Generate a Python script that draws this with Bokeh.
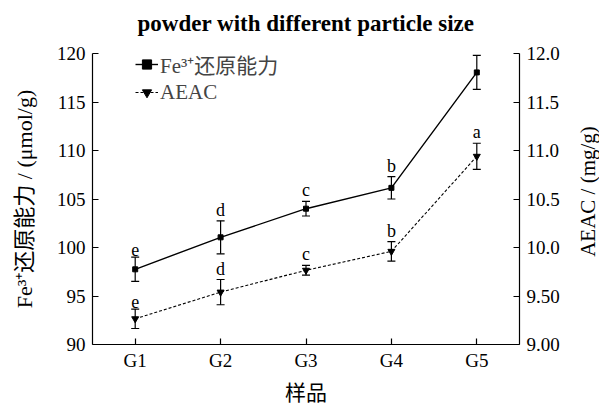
import math
from bokeh.plotting import figure
from bokeh.models import (LinearAxis, Range1d, FactorRange, FixedTicker, Whisker,
                          TeeHead, ColumnDataSource, Legend, LegendItem, Title, Label)
from bokeh.core.properties import value
from bokeh.embed import file_html
from bokeh.resources import INLINE

samples = ["G1", "G2", "G3", "G4", "G5"]
fe_values = [97.75, 101.05, 104.0, 106.15, 118.05]
fe_errors = [1.25, 1.7, 0.75, 1.15, 1.75]
fe_letters = ["e", "d", "c", "b", "a"]
aeac_values = [9.265, 9.54, 9.765, 9.96, 10.94]
aeac_errors = [0.1, 0.13, 0.05, 0.1, 0.135]
aeac_letters = ["e", "d", "c", "b", "a"]
left_ticks = [90, 95, 100, 105, 110, 115, 120]
right_ticks = [9.0, 9.5, 10.0, 10.5, 11.0, 11.5, 12.0]
right_tick_labels = ["9.00", "9.50", "10.0", "10.5", "11.0", "11.5", "12.0"]

title_text = "powder with different particle size"
x_label = "样品"
left_label = "Fe³⁺还原能力 / (μmol/g)"
right_label = "AEAC / (mg/g)"
fe_name = "Fe³⁺还原能力"
aeac_name = "AEAC"

FONT = "'Liberation Serif', 'Noto Sans CJK SC', serif"

fe_src = ColumnDataSource(dict(
    x=samples, y=fe_values,
    lo=[v - e for v, e in zip(fe_values, fe_errors)],
    hi=[v + e for v, e in zip(fe_values, fe_errors)],
    t=fe_letters))
ae_src = ColumnDataSource(dict(
    x=samples, y=aeac_values,
    lo=[v - e for v, e in zip(aeac_values, aeac_errors)],
    hi=[v + e for v, e in zip(aeac_values, aeac_errors)],
    t=aeac_letters))

p = figure(width=599, height=407, x_range=FactorRange(*samples, range_padding=0),
           y_range=Range1d(90, 120), output_backend="svg", toolbar_location=None,
           title=None,
           min_border_left=92, min_border_right=80, min_border_top=53, min_border_bottom=63)
p.extra_y_ranges = {"r": Range1d(9.0, 12.0)}

# small white spacer next to the frame, then the real title above it
p.add_layout(Title(text=".", text_color="white", text_font_size="4px", standoff=3), "above")
p.add_layout(Title(text=title_text, align="center", vertical_align="top",
                   text_font=FONT, text_font_size="23px", text_font_style="bold",
                   text_color="black", standoff=16), "above")

p.outline_line_color = None
p.xgrid.visible = False
p.ygrid.visible = False
p.background_fill_color = "white"
p.border_fill_color = "white"

ya = p.yaxis[0]
ya.ticker = FixedTicker(ticks=left_ticks)
ya.axis_label = left_label
xa = p.xaxis[0]
xa.axis_label = x_label

ra = LinearAxis(y_range_name="r", ticker=FixedTicker(ticks=right_ticks),
                major_label_overrides={t: s for t, s in zip(right_ticks, right_tick_labels)})
p.add_layout(ra, "right")

for ax in (ya, xa, ra):
    ax.major_tick_in = 6
    ax.major_tick_out = 0
    ax.minor_tick_line_color = None
    ax.axis_line_color = "black"
    ax.axis_line_width = 1.2
    ax.major_tick_line_width = 1.2
    ax.major_label_text_font = FONT
    ax.major_label_text_font_size = "19px"
    ax.major_label_text_color = "black"
    ax.axis_label_text_font = FONT
    ax.axis_label_text_font_size = "21px"
    ax.axis_label_text_font_style = "normal"
    ax.axis_label_text_color = "black"
    ax.major_label_standoff = 7
ya.axis_label_text_font_size = "22px"
ya.axis_label_text_line_height = 1.0
ya.axis_label_standoff = 17
xa.axis_label_standoff = 7
xa.major_label_standoff = 5

# right-axis title in the right side panel, reading bottom-to-top like the left one
p.add_layout(Label(x=25, y=153, x_units="screen", y_units="screen", text=right_label,
                   angle=math.pi / 2, text_align="center", text_baseline="middle",
                   text_font=FONT, text_font_size="21px", text_color="black"), "right")

# Fe series (left axis)
fe_line = p.line("x", "y", source=fe_src, line_color="black", line_width=1.4)
fe_pts = p.scatter("x", "y", source=fe_src, marker="square", size=5,
                   fill_color="black", line_color="black")
p.add_layout(Whisker(source=fe_src, base="x", lower="lo", upper="hi",
                     line_color="black", line_width=1.2,
                     upper_head=TeeHead(size=8, line_color="black", line_width=1.2),
                     lower_head=TeeHead(size=8, line_color="black", line_width=1.2)))
p.text("x", "hi", text="t", source=fe_src, text_align="center", text_baseline="bottom",
       y_offset=-1, text_font=value("Liberation Serif"), text_font_size="18px",
       text_color="black")

# AEAC series (right axis)
ae_line = p.line("x", "y", source=ae_src, y_range_name="r", line_color="black",
                 line_width=1.1, line_dash="3 2")
ae_pts = p.scatter("x", "y", source=ae_src, y_range_name="r", marker="inverted_triangle",
                   size=7, fill_color="black", line_color="black")
p.add_layout(Whisker(source=ae_src, base="x", lower="lo", upper="hi", y_range_name="r",
                     line_color="black", line_width=1.2,
                     upper_head=TeeHead(size=8, line_color="black", line_width=1.2),
                     lower_head=TeeHead(size=8, line_color="black", line_width=1.2)))
p.text("x", "hi", text="t", source=ae_src, y_range_name="r", text_align="center",
       text_baseline="bottom", y_offset=-1, text_font=value("Liberation Serif"),
       text_font_size="18px", text_color="black")

legend = Legend(items=[LegendItem(label=fe_name, renderers=[fe_line, fe_pts]),
                       LegendItem(label=aeac_name, renderers=[ae_line, ae_pts])],
                location=(43, 291 - 52), orientation="vertical",
                background_fill_alpha=0, border_line_color=None,
                label_text_font=FONT, label_text_font_size="21px",
                glyph_width=23, glyph_height=26, label_height=26, label_width=130,
                label_standoff=2, spacing=0, padding=0, margin=0)
p.add_layout(legend, "center")

open("out.html", "w").write(file_html(p, INLINE))
